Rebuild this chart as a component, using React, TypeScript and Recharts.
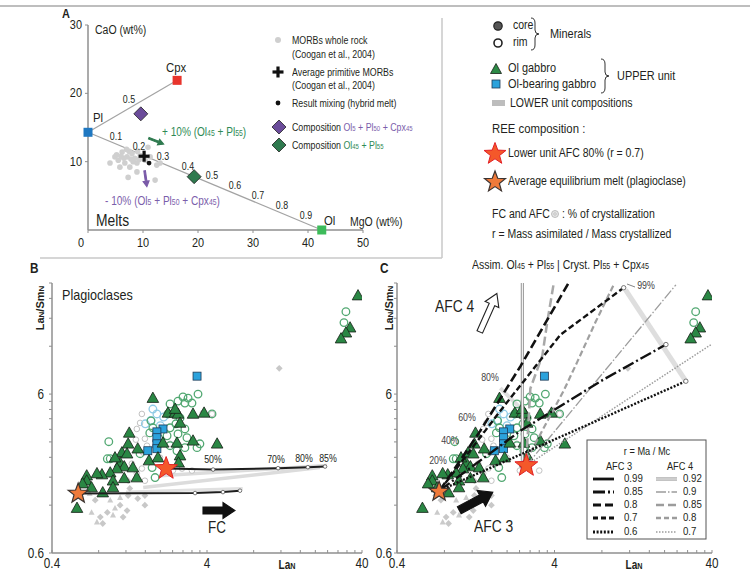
import React from 'react';
import { ScatterChart, Scatter, XAxis, YAxis } from 'recharts';

type P = { x: number; y: number };

const PAGE_W = 750;
const PAGE_H = 575;
const SX = 0.84;
const FONT = '"Liberation Sans", Arial, Helvetica, sans-serif';
const INK = '#231f20';
const AXIS = '#8f8f8f';

// ================= Panel A : CaO vs MgO (wt%) =================
const aXTicks = [0, 10, 20, 30, 40, 50];
const aYTicks = [10, 20, 30];
const plEnd: P[] = [{ x: 0, y: 14.3 }];
const cpxEnd: P[] = [{ x: 16.2, y: 21.9 }];
const olEnd: P[] = [{ x: 42.5, y: 0 }];
const plCpxMix: P[] = [{ x: 0, y: 14.3 }, { x: 16.2, y: 21.9 }];
const plOlMix: P[] = [{ x: 0, y: 14.3 }, { x: 42.5, y: 0 }];
const morbWholeRock: P[] = [
  { x: 4.0, y: 9.8 }, { x: 6.2, y: 11.4 }, { x: 7.1, y: 10.7 }, { x: 8.0, y: 11.2 }, { x: 8.5, y: 10.5 },
  { x: 9.5, y: 10.9 }, { x: 5.5, y: 10.2 }, { x: 6.7, y: 9.8 }, { x: 7.6, y: 9.2 }, { x: 8.9, y: 8.5 },
  { x: 7.3, y: 7.7 }, { x: 10.9, y: 12.1 }, { x: 11.3, y: 10.7 }, { x: 12.5, y: 9.5 }, { x: 12.2, y: 7.3 },
  { x: 13.1, y: 9.8 }, { x: 4.9, y: 10.7 }, { x: 5.8, y: 9.2 }, { x: 10.4, y: 10.2 }, { x: 8.9, y: 9.8 },
  { x: 6.5, y: 10.5 }, { x: 7.5, y: 11.5 }, { x: 8.2, y: 10.0 }, { x: 9.0, y: 11.5 }, { x: 6.0, y: 10.8 },
  { x: 7.8, y: 10.4 }, { x: 9.3, y: 10.3 }, { x: 5.2, y: 11.0 }, { x: 7.0, y: 11.8 },
];
const avgPrimitiveMorb: P[] = [{ x: 10.2, y: 10.8 }];
const hybridMelt: P[] = [{ x: 11.1, y: 9.8 }];
const compOlPlCpx: P[] = [{ x: 9.6, y: 17.0 }];
const compOlPl: P[] = [{ x: 19.3, y: 7.8 }];
const plusTenArrow: P[] = [{ x: 12.4, y: 13.0 }];
const minusTenArrow: P[] = [{ x: 10.5, y: 7.5 }];
const mixFractions = ['0.1', '0.2', '0.3', '0.4', '0.5', '0.6', '0.7', '0.8', '0.9'];

// ================= Panels B & C : LaN/SmN vs LaN (log-log) =================
const laTicks = [0.4, 0.8, 1.2, 1.6, 2, 2.4, 2.8, 3.2, 3.6, 4, 8, 12, 16, 20, 24, 28, 32, 36, 40];
const ratioTicks = [0.6, 1.2, 1.8, 2.4, 3, 3.6, 4.2, 4.8, 5.4, 6, 12, 18, 24, 30];
const laTickLabels = ['0.4', '4', '40'];
const ratioTickLabels = ['0.6', '6'];

const olGabbro: P[] = [
  { x: 1.79, y: 5.66 }, { x: 1.26, y: 3.42 }, { x: 2.24, y: 4.57 }, { x: 2.49, y: 4.57 }, { x: 2.6, y: 4.5 },
  { x: 3.25, y: 4.5 }, { x: 3.83, y: 4.57 }, { x: 2.68, y: 3.95 }, { x: 1.24, y: 2.92 }, { x: 1.43, y: 2.72 },
  { x: 1.13, y: 2.57 }, { x: 1.22, y: 2.53 }, { x: 2.08, y: 2.96 }, { x: 2.56, y: 2.96 }, { x: 3.25, y: 3.05 },
  { x: 4.65, y: 2.92 }, { x: 1.69, y: 2.29 }, { x: 1.93, y: 2.39 }, { x: 2.68, y: 2.46 }, { x: 1.1, y: 2.22 },
  { x: 1.02, y: 2.39 }, { x: 1.17, y: 2.1 }, { x: 1.05, y: 2.04 }, { x: 1.33, y: 2.07 }, { x: 0.95, y: 1.92 },
  { x: 0.84, y: 1.87 }, { x: 0.78, y: 1.9 }, { x: 0.67, y: 1.84 }, { x: 1.17, y: 1.77 }, { x: 1.41, y: 1.79 },
  { x: 0.99, y: 1.71 }, { x: 0.99, y: 1.55 }, { x: 0.67, y: 1.71 }, { x: 0.63, y: 1.64 }, { x: 0.72, y: 1.55 },
  { x: 0.85, y: 1.44 }, { x: 0.58, y: 1.15 }, { x: 2.62, y: 2.22 }, { x: 2.49, y: 4.83 },
  { x: 37.7, y: 25.0 }, { x: 33.5, y: 15.7 }, { x: 31.5, y: 14.6 }, { x: 29.3, y: 13.4 },
];
const rimGreen: P[] = [
  { x: 0.93, y: 3.01 }, { x: 0.91, y: 2.35 }, { x: 0.95, y: 2.35 }, { x: 1.74, y: 4.07 }, { x: 1.79, y: 3.68 },
  { x: 1.71, y: 3.42 }, { x: 2.31, y: 5.2 }, { x: 2.6, y: 5.42 }, { x: 2.88, y: 5.27 }, { x: 3.2, y: 5.27 },
  { x: 3.5, y: 6.0 }, { x: 2.68, y: 4.25 }, { x: 2.52, y: 3.9 }, { x: 2.31, y: 3.68 }, { x: 2.88, y: 3.62 },
  { x: 2.6, y: 3.37 }, { x: 2.97, y: 3.19 }, { x: 2.21, y: 3.28 }, { x: 1.96, y: 3.14 }, { x: 2.31, y: 2.84 },
  { x: 2.88, y: 2.76 }, { x: 2.56, y: 2.64 }, { x: 3.6, y: 2.92 }, { x: 3.45, y: 2.76 }, { x: 4.31, y: 4.5 },
  { x: 2.24, y: 4.5 }, { x: 1.77, y: 2.07 }, { x: 1.85, y: 1.79 }, { x: 1.48, y: 2.53 }, { x: 3.02, y: 5.66 },
  { x: 2.8, y: 5.75 }, { x: 31.5, y: 19.8 }, { x: 30.6, y: 16.9 },
];
const rimBlue: P[] = [
  { x: 1.79, y: 4.83 }, { x: 1.9, y: 4.5 }, { x: 1.74, y: 4.1 }, { x: 2.0, y: 3.8 }, { x: 2.1, y: 4.3 }, { x: 1.6, y: 3.9 },
];
const olBearingGabbro: P[] = [
  { x: 2.08, y: 3.62 }, { x: 1.9, y: 3.47 }, { x: 1.9, y: 3.19 }, { x: 1.9, y: 2.92 }, { x: 1.9, y: 2.72 },
  { x: 1.66, y: 2.64 }, { x: 3.45, y: 7.78 },
];
const lowerCircles: P[] = [
  { x: 1.52, y: 4.5 }, { x: 1.48, y: 3.95 }, { x: 1.41, y: 3.62 }, { x: 1.59, y: 3.14 }, { x: 1.39, y: 3.1 },
  { x: 1.64, y: 2.84 }, { x: 1.55, y: 2.57 }, { x: 1.31, y: 2.19 }, { x: 1.52, y: 2.04 }, { x: 2.31, y: 2.92 },
  { x: 1.99, y: 2.39 }, { x: 2.41, y: 1.98 }, { x: 3.2, y: 1.98 }, { x: 3.77, y: 4.57 }, { x: 4.31, y: 4.5 },
  { x: 2.76, y: 2.04 }, { x: 1.41, y: 1.9 }, { x: 1.59, y: 1.71 },
];
const lowerDiamonds: P[] = [
  { x: 1.24, y: 1.71 }, { x: 1.27, y: 1.53 }, { x: 1.59, y: 1.38 }, { x: 1.43, y: 1.32 }, { x: 1.24, y: 1.38 },
  { x: 1.1, y: 1.2 }, { x: 1.22, y: 1.11 }, { x: 0.91, y: 1.08 }, { x: 0.82, y: 1.01 }, { x: 0.85, y: 0.92 },
  { x: 0.76, y: 1.29 }, { x: 1.15, y: 1.01 }, { x: 1.59, y: 1.2 }, { x: 11.7, y: 8.72 },
];
const lowerTriangles: P[] = [
  { x: 1.1, y: 1.34 }, { x: 0.95, y: 1.29 }, { x: 1.02, y: 1.15 }, { x: 0.78, y: 0.94 }, { x: 0.72, y: 1.08 },
  { x: 0.7, y: 1.42 }, { x: 0.99, y: 1.04 },
];

// Panel B: FC models
const bLowerUnitStar: P[] = [{ x: 2.18, y: 2.04 }];
const bEquilibriumStar: P[] = [{ x: 0.59, y: 1.42 }];
const fcFromLowerUnit: P[] = [{ x: 2.18, y: 2.04 }, { x: 4.38, y: 2.01 }, { x: 11.5, y: 2.05 }, { x: 17.9, y: 2.08 }, { x: 23.1, y: 2.1 }];
const fcFromEquilibrium: P[] = [{ x: 0.59, y: 1.42 }, { x: 3.35, y: 1.43 }, { x: 5.07, y: 1.45 }, { x: 6.53, y: 1.48 }];
const fcSteps: P[] = [
  { x: 4.38, y: 2.01 }, { x: 11.5, y: 2.05 }, { x: 17.9, y: 2.08 }, { x: 23.1, y: 2.1 },
  { x: 3.35, y: 1.43 }, { x: 5.07, y: 1.45 }, { x: 6.53, y: 1.48 },
];
const fcPercentLabels = ['50%', '70%', '80%', '85%'];
const lowerBand1: P[] = [{ x: 1.55, y: 1.55 }, { x: 21.4, y: 2.07 }];
const lowerBand2: P[] = [{ x: 1.99, y: 1.84 }, { x: 23.8, y: 2.13 }];
const lowerBand3: P[] = [{ x: 1.2, y: 1.45 }, { x: 6.8, y: 1.53 }];
const fcArrow: P[] = [{ x: 4.78, y: 1.11 }];

// Panel C: AFC models
const cLowerUnitStar: P[] = [{ x: 2.65, y: 2.13 }];
const cEquilibriumStar: P[] = [{ x: 0.74, y: 1.46 }];
const afc3r085: P[] = [{ x: 0.75, y: 1.49 }, { x: 2.43, y: 3.52 }, { x: 7.85, y: 7.23 }, { x: 20.4, y: 12.3 }];
const afc3r08: P[] = [{ x: 0.75, y: 1.49 }, { x: 1.35, y: 3.52 }, { x: 2.43, y: 8.97 }, { x: 4.91, y: 30 }];
const afc3r07: P[] = [{ x: 0.75, y: 1.49 }, { x: 1.81, y: 4.7 }, { x: 4.37, y: 14.2 }, { x: 11.0, y: 28.0 }];
const afc3r06: P[] = [{ x: 0.75, y: 1.49 }, { x: 3.26, y: 2.84 }, { x: 27.3, y: 7.23 }];
const afc4r092: P[] = [{ x: 2.5, y: 2.29 }, { x: 2.5, y: 30 }];
const afc4r09: P[] = [{ x: 2.65, y: 2.13 }, { x: 23.6, y: 29.2 }];
const afc4r085: P[] = [{ x: 2.65, y: 2.3 }, { x: 2.81, y: 6.5 }, { x: 3.35, y: 10.5 }, { x: 3.6, y: 17.1 }, { x: 3.94, y: 29.2 }];
const afc4r08: P[] = [{ x: 2.65, y: 2.3 }, { x: 4.56, y: 6.26 }, { x: 5.6, y: 9.64 }, { x: 7.3, y: 17.1 }, { x: 9.5, y: 29.2 }];
const afc4r07: P[] = [{ x: 2.65, y: 2.13 }, { x: 40, y: 12.4 }];
const iso99: P[] = [{ x: 11.3, y: 27.2 }, { x: 27.3, y: 7.23 }];
const iso80: P[] = [{ x: 1.81, y: 6.54 }, { x: 2.81, y: 4.25 }];
const afcEnds: P[] = [{ x: 20.4, y: 12.3 }, { x: 27.3, y: 7.23 }, { x: 11.0, y: 28.0 }];
const afc3Arrow: P[] = [{ x: 1.27, y: 1.27 }];
const afc4Arrow: P[] = [{ x: 1.52, y: 19.5 }];
const afcPercentLabels = ['20%', '40%', '60%', '80%', '99%'];
const afc3Ratios = ['0.99', '0.85', '0.8', '0.7', '0.6'];
const afc4Ratios = ['0.92', '0.9', '0.85', '0.8', '0.7'];

// ================= shapes =================
const noShape = () => <g />;
const starPts = (cx: number, cy: number, ro: number, ri: number) => {
  const pts: string[] = [];
  for (let i = 0; i < 10; i++) {
    const a = -Math.PI / 2 + (i * Math.PI) / 5;
    const r = i % 2 === 0 ? ro : ri;
    pts.push(`${(cx + r * Math.cos(a)).toFixed(2)},${(cy + r * Math.sin(a)).toFixed(2)}`);
  }
  return pts.join(' ');
};
const redStar = (p: any) => <polygon points={starPts(p.cx, p.cy, 12, 5)} fill="#f4582a" stroke="#e21f26" strokeWidth={1} />;
const orangeStar = (p: any) => <polygon points={starPts(p.cx, p.cy, 10.5, 4.4)} fill="#ef7a3a" stroke="#3b3330" strokeWidth={1.2} />;
const triShape = (p: any) => (
  <polygon points={`${p.cx},${p.cy - 6} ${p.cx + 5.8},${p.cy + 4.3} ${p.cx - 5.8},${p.cy + 4.3}`} fill="#2a8744" stroke="#182018" strokeWidth={0.8} />
);
const greenRing = (p: any) => <circle cx={p.cx} cy={p.cy} r={3.8} fill="none" stroke="#52a872" strokeWidth={1.3} />;
const blueRing = (p: any) => <circle cx={p.cx} cy={p.cy} r={3.8} fill="none" stroke="#8fcbe6" strokeWidth={1.3} />;
const squareShape = (p: any) => <rect x={p.cx - 4} y={p.cy - 4} width={8} height={8} fill="#2ba2dc" stroke="#1f3b57" strokeWidth={0.8} />;
const grayRing = (p: any) => <circle cx={p.cx} cy={p.cy} r={2.8} fill="#fff" stroke="#c2c2c2" strokeWidth={1} />;
const grayDiamond = (p: any) => (
  <polygon points={`${p.cx},${p.cy - 3.4} ${p.cx + 3.4},${p.cy} ${p.cx},${p.cy + 3.4} ${p.cx - 3.4},${p.cy}`} fill="#c8c8c8" />
);
const grayTri = (p: any) => (
  <polygon points={`${p.cx},${p.cy - 3.2} ${p.cx + 3},${p.cy + 2.4} ${p.cx - 3},${p.cy + 2.4}`} fill="#cbcbcb" />
);
const stepMark = (p: any) => <circle cx={p.cx} cy={p.cy} r={1.8} fill="#fff" stroke="#555" strokeWidth={0.8} />;
const endMark = (p: any) => <circle cx={p.cx} cy={p.cy} r={2.2} fill="#fff" stroke="#666" strokeWidth={0.9} />;
const morbDot = (p: any) => <circle cx={p.cx} cy={p.cy} r={2.8} fill="#cfcfcf" />;
const plusShape = (p: any) => (
  <g>
    <rect x={p.cx - 5.5} y={p.cy - 1.6} width={11} height={3.2} fill="#111" />
    <rect x={p.cx - 1.6} y={p.cy - 5.5} width={3.2} height={11} fill="#111" />
  </g>
);
const dotShape = (p: any) => <circle cx={p.cx} cy={p.cy} r={2.4} fill="#111" />;
const diamond = (fill: string) => (p: any) => (
  <polygon points={`${p.cx},${p.cy - 7} ${p.cx + 7},${p.cy} ${p.cx},${p.cy + 7} ${p.cx - 7},${p.cy}`} fill={fill} stroke="#222" strokeWidth={0.8} />
);
const squareMineral = (fill: string) => (p: any) => <rect x={p.cx - 4.5} y={p.cy - 4.5} width={9} height={9} fill={fill} />;
const arrowShape = (len: number, angle: number, body: number, head: number, headLen: number, fill: string, stroke: string) => (p: any) => {
  const h = len / 2, b = body / 2, hw = head / 2;
  const pts = [[-h, -b], [h - headLen, -b], [h - headLen, -hw], [h, 0], [h - headLen, hw], [h - headLen, b], [-h, b]];
  return (
    <polygon points={pts.map(([x, y]) => `${x},${y}`).join(' ')} transform={`translate(${p.cx},${p.cy}) rotate(${angle})`}
      fill={fill} stroke={stroke} strokeWidth={1.1} strokeLinejoin="miter" />
  );
};

// ================= ticks =================
const aXTick = (p: any) => {
  const { x, y, payload } = p;
  return (
    <g>
      <line x1={x} x2={x} y1={y} y2={y + 3} stroke={AXIS} />
      <text transform={`translate(${payload.value === 0 ? x - 7 : x},${y + 17}) scale(${SX},1)`} textAnchor="middle" fontSize={13} fill={INK} fontFamily={FONT}>
        {payload.value}
      </text>
    </g>
  );
};
const aYTick = (p: any) => {
  const { x, y, payload } = p;
  return (
    <g>
      <line x1={x} x2={x - 3} y1={y} y2={y} stroke={AXIS} />
      <text transform={`translate(${x - 6},${y + 4}) scale(${SX},1)`} textAnchor="end" fontSize={13} fill={INK} fontFamily={FONT}>
        {payload.value}
      </text>
    </g>
  );
};
const logXTick = (p: any) => {
  const { x, y, payload } = p;
  const lab = laTickLabels.includes(String(payload.value)) ? String(payload.value) : '';
  return (
    <g>
      <line x1={x} x2={x} y1={y} y2={y - 3} stroke={AXIS} />
      {lab ? (
        <text transform={`translate(${x},${y + 15}) scale(${SX},1)`} textAnchor="middle" fontSize={14} fill={INK} fontFamily={FONT}>{lab}</text>
      ) : null}
    </g>
  );
};
const logYTick = (gap: number) => (p: any) => {
  const { x, y, payload } = p;
  const lab = ratioTickLabels.includes(String(payload.value)) ? String(payload.value) : '';
  return (
    <g>
      <line x1={x} x2={x - 3} y1={y} y2={y} stroke={AXIS} />
      {lab ? (
        <text transform={`translate(${x - gap},${y + 5}) scale(${SX},1)`} textAnchor="end" fontSize={14} fill={INK} fontFamily={FONT}>{lab}</text>
      ) : null}
    </g>
  );
};

// ================= text helpers =================
function Tx({ x, y, s = 12, c = INK, a = 'start', b = false, children }: any) {
  const style: any = {
    position: 'absolute', top: y - s * 0.6, fontSize: s, lineHeight: `${s * 1.2}px`, whiteSpace: 'nowrap',
    color: c, fontWeight: b ? 'bold' : 'normal', fontFamily: FONT,
  };
  if (a === 'start') { style.left = x; style.transform = `scaleX(${SX})`; style.transformOrigin = 'left center'; }
  else if (a === 'end') { style.right = PAGE_W - x; style.transform = `scaleX(${SX})`; style.transformOrigin = 'right center'; }
  else { style.left = x; style.transform = `translateX(-50%) scaleX(${SX})`; style.transformOrigin = 'center'; }
  return <div style={style}>{children}</div>;
}
const Sub = ({ children }: any) => <span style={{ fontSize: '0.68em' }}>{children}</span>;
const LaN = () => <span>La<span style={{ fontSize: '0.72em' }}>N</span></span>;

const S = (data: P[], shape: any, line?: any) => (
  <Scatter data={data} shape={shape} line={line} isAnimationActive={false} />
);

// ================= panels =================
function PanelA() {
  return (
    <div style={{ position: 'absolute', left: 38, top: 15 }}>
      <ScatterChart width={345} height={245} margin={{ top: 10, right: 20, bottom: 0, left: 0 }}>
        <XAxis type="number" dataKey="x" domain={[0, 50]} ticks={aXTicks} interval={0} height={30} tickSize={0} tickMargin={0}
          axisLine={{ stroke: AXIS, strokeWidth: 1.5 }} tickLine={false} tick={aXTick} />
        <YAxis type="number" dataKey="y" domain={[0, 30]} ticks={aYTicks} interval={0} width={50} tickSize={0} tickMargin={0}
          axisLine={{ stroke: AXIS, strokeWidth: 1.5 }} tickLine={false} tick={aYTick} />
        {S(plCpxMix, noShape, { stroke: '#a3a3a3', strokeWidth: 1.2 })}
        {S(plOlMix, noShape, { stroke: '#a3a3a3', strokeWidth: 1.2 })}
        {S(morbWholeRock, morbDot)}
        {S(avgPrimitiveMorb, plusShape)}
        {S(hybridMelt, dotShape)}
        {S(compOlPlCpx, diamond('#6b4c9a'))}
        {S(compOlPl, diamond('#2f7a4f'))}
        {S(plEnd, squareMineral('#1f78c1'))}
        {S(cpxEnd, squareMineral('#e8342c'))}
        {S(olEnd, squareMineral('#3dbb5a'))}
        {S(plusTenArrow, arrowShape(16, 22, 1.6, 6, 5.5, '#2f7a4f', '#2f7a4f'))}
        {S(minusTenArrow, arrowShape(16, 82, 1.6, 6, 5.5, '#7a5aa8', '#7a5aa8'))}
      </ScatterChart>
    </div>
  );
}

function PanelB() {
  return (
    <div style={{ position: 'absolute', left: 2, top: 273 }}>
      <ScatterChart width={374} height={302} margin={{ top: 10, right: 14, bottom: 0, left: 0 }}>
        <XAxis type="number" dataKey="x" scale="log" domain={[0.4, 40]} allowDataOverflow ticks={laTicks} interval={0} height={22}
          tickSize={0} tickMargin={0} axisLine={{ stroke: AXIS, strokeWidth: 1.5 }} tickLine={false} tick={logXTick} />
        <YAxis type="number" dataKey="y" scale="log" domain={[0.6, 30]} allowDataOverflow ticks={ratioTicks} interval={0} width={50}
          tickSize={0} tickMargin={0} axisLine={{ stroke: AXIS, strokeWidth: 1.5 }} tickLine={false} tick={logYTick(8)} />
        {S(lowerBand1, noShape, { stroke: '#dcdcdc', strokeWidth: 3.5 })}
        {S(lowerBand2, noShape, { stroke: '#dcdcdc', strokeWidth: 3.5 })}
        {S(lowerBand3, noShape, { stroke: '#e0e0e0', strokeWidth: 3 })}
        {S(lowerCircles, grayRing)}
        {S(lowerDiamonds, grayDiamond)}
        {S(lowerTriangles, grayTri)}
        {S(rimBlue, blueRing)}
        {S(rimGreen, greenRing)}
        {S(olBearingGabbro, squareShape)}
        {S(olGabbro, triShape)}
        {S(fcFromLowerUnit, noShape, { stroke: '#1e1e1e', strokeWidth: 2 })}
        {S(fcFromEquilibrium, noShape, { stroke: '#1e1e1e', strokeWidth: 2 })}
        {S(fcSteps, stepMark)}
        {S(bEquilibriumStar, orangeStar)}
        {S(bLowerUnitStar, redStar)}
        {S(fcArrow, arrowShape(32, 0, 7, 16, 12, '#111', '#111'))}
      </ScatterChart>
    </div>
  );
}

function PanelC() {
  return (
    <div style={{ position: 'absolute', left: 347, top: 273 }}>
      <ScatterChart width={381} height={302} margin={{ top: 10, right: 16, bottom: 0, left: 0 }}>
        <XAxis type="number" dataKey="x" scale="log" domain={[0.4, 40]} allowDataOverflow ticks={laTicks} interval={0} height={22}
          tickSize={0} tickMargin={0} axisLine={{ stroke: AXIS, strokeWidth: 1.5 }} tickLine={false} tick={logXTick} />
        <YAxis type="number" dataKey="y" scale="log" domain={[0.6, 30]} allowDataOverflow ticks={ratioTicks} interval={0} width={50}
          tickSize={0} tickMargin={0} axisLine={{ stroke: AXIS, strokeWidth: 1.5 }} tickLine={false} tick={logYTick(5)} />
        {S(iso99, noShape, { stroke: '#dedede', strokeWidth: 5 })}
        {S(iso80, noShape, { stroke: '#dedede', strokeWidth: 4 })}
        {S(lowerCircles, grayRing)}
        {S(lowerDiamonds, grayDiamond)}
        {S(lowerTriangles, grayTri)}
        {S(rimBlue, blueRing)}
        {S(rimGreen, greenRing)}
        {S(olBearingGabbro, squareShape)}
        {S(olGabbro, triShape)}
        {S(afc4r092, noShape, { stroke: '#9c9c9c', strokeWidth: 3.2 })}
        {S(afc4r092, noShape, { stroke: '#ffffff', strokeWidth: 1 })}
        {S(afc4r09, noShape, { stroke: '#9c9c9c', strokeWidth: 1.3, strokeDasharray: '10 2 1.5 2' })}
        {S(afc4r085, noShape, { stroke: '#a8a8a8', strokeWidth: 2.5, strokeDasharray: '9 4' })}
        {S(afc4r08, noShape, { stroke: '#a0a0a0', strokeWidth: 2.2, strokeDasharray: '6 3' })}
        {S(afc4r07, noShape, { stroke: '#9c9c9c', strokeWidth: 1.5, strokeDasharray: '1.5 1.5' })}
        {S(afc3r085, noShape, { stroke: '#111', strokeWidth: 2.4, strokeDasharray: '12 3 2 3' })}
        {S(afc3r08, noShape, { stroke: '#111', strokeWidth: 2.6, strokeDasharray: '9 4' })}
        {S(afc3r07, noShape, { stroke: '#111', strokeWidth: 2.4, strokeDasharray: '6 3' })}
        {S(afc3r06, noShape, { stroke: '#111', strokeWidth: 2.4, strokeDasharray: '2 1.6' })}
        {S(afcEnds, endMark)}
        {S(cEquilibriumStar, orangeStar)}
        {S(cLowerUnitStar, redStar)}
        {S(afc3Arrow, arrowShape(38, -28, 8, 18, 13, '#111', '#111'))}
        {S(afc4Arrow, arrowShape(42, -66, 6, 15, 12, '#fff', '#222'))}
      </ScatterChart>
    </div>
  );
}

// ================= overlay: frames, legend glyphs =================
const brace = (x: number, y1: number, y2: number) => {
  const m = (y1 + y2) / 2;
  return `M${x},${y1} Q${x + 4},${y1} ${x + 4},${y1 + 5} L${x + 4},${m - 4} Q${x + 4},${m} ${x + 8},${m} Q${x + 4},${m} ${x + 4},${m + 4} L${x + 4},${y2 - 5} Q${x + 4},${y2} ${x},${y2}`;
};
const legendRows = [479, 492, 505, 518, 532];
const afc3Styles = [
  { w: 2.8, d: '' }, { w: 2.8, d: '12 3 2 3' }, { w: 2.8, d: '8 4' }, { w: 2.8, d: '5 3' }, { w: 2.8, d: '2 1.6' },
];
const afc4Styles = [
  { w: 3.2, d: '' }, { w: 1.3, d: '10 2 1.5 2' }, { w: 2.6, d: '8 4' }, { w: 2.4, d: '5 3' }, { w: 1.5, d: '1.5 1.5' },
];

function Overlay() {
  return (
    <svg width={PAGE_W} height={PAGE_H} style={{ position: 'absolute', left: 0, top: 0, pointerEvents: 'none' }}>
      <line x1={0} x2={PAGE_W} y1={6} y2={6} stroke="#a8a8a8" strokeWidth={1.5} />
      <line x1={442} x2={442} y1={18} y2={258} stroke="#c8c8c8" strokeWidth={1.5} />
      <line x1={40} x2={442} y1={258} y2={258} stroke="#c8c8c8" strokeWidth={1.5} />
      {/* panel A legend glyphs */}
      <circle cx={278} cy={40} r={3} fill="#cfcfcf" />
      <rect x={272.5} y={70.4} width={11} height={3.2} fill="#111" />
      <rect x={276.4} y={66.5} width={3.2} height={11} fill="#111" />
      <circle cx={278} cy={103} r={2.4} fill="#111" />
      <polygon points="279,120 286,127 279,134 272,127" fill="#6b4c9a" stroke="#222" strokeWidth={0.8} />
      <polygon points="279,138 286,145 279,152 272,145" fill="#2f7a4f" stroke="#222" strokeWidth={0.8} />
      {/* right legend glyphs */}
      <circle cx={498} cy={26} r={4.2} fill="#555" stroke="#222" strokeWidth={1.2} />
      <circle cx={498} cy={43} r={4} fill="#fff" stroke="#222" strokeWidth={1.6} />
      <path d={brace(531, 18, 50)} fill="none" stroke="#333" strokeWidth={1} />
      <polygon points="496,63.5 501.5,73.5 490.5,73.5" fill="#2c8a46" stroke="#182018" strokeWidth={0.8} />
      <rect x={492} y={80} width={8} height={8} fill="#2ba2dc" stroke="#1f3b57" strokeWidth={0.8} />
      <path d={brace(601, 59, 93)} fill="none" stroke="#333" strokeWidth={1} />
      <rect x={492} y={100} width={13} height={6} fill="#bdbdbd" />
      <polygon points={starPts(495, 154, 11.5, 4.8)} fill="#f4582a" stroke="#e21f26" strokeWidth={1} />
      <polygon points={starPts(495, 182, 11, 4.6)} fill="#ef7a3a" stroke="#3b3330" strokeWidth={1.2} />
      <circle cx={555} cy={214} r={3.5} fill="#e6e6e6" stroke="#b0b0b0" strokeWidth={0.8} />
      <circle cx={555} cy={214} r={1.2} fill="#fff" stroke="#888" strokeWidth={0.5} />
      {/* panel C leaders */}
      <line x1={627} y1={284} x2={635} y2={287} stroke="#666" strokeWidth={0.8} />
      {/* panel C legend box */}
      <rect x={587} y={440} width={119} height={99} fill="#fff" stroke="#555" strokeWidth={1} />
      {legendRows.map((yy, i) => (
        <g key={i}>
          <line x1={593} x2={614} y1={yy} y2={yy} stroke="#111" strokeWidth={afc3Styles[i].w} strokeDasharray={afc3Styles[i].d} />
          <line x1={656} x2={677} y1={yy} y2={yy} stroke="#9c9c9c" strokeWidth={afc4Styles[i].w} strokeDasharray={afc4Styles[i].d} />
          {i === 0 ? <line x1={656} x2={677} y1={yy} y2={yy} stroke="#fff" strokeWidth={1} /> : null}
        </g>
      ))}
    </svg>
  );
}

function Texts() {
  const mixPos = [[116, 136], [139, 146], [163, 156], [188, 166], [212, 175], [235, 185], [258, 195], [282, 205], [306, 215]];
  const fcPos = [[213, 459], [276, 459], [304, 458], [328, 458]];
  const afcPos = [[438, 460], [450, 440], [467, 417], [490, 377], [646, 285]];
  return (
    <>
      <Tx x={62} y={14} s={13} b>A</Tx>
      <Tx x={30} y={268} s={14} b>B</Tx>
      <Tx x={380} y={268} s={14} b>C</Tx>

      <Tx x={95} y={30} s={12.5}>CaO (wt%)</Tx>
      <Tx x={350} y={222} s={12.5}>MgO (wt%)</Tx>
      <Tx x={93} y={118} s={13.5}>Pl</Tx>
      <Tx x={166} y={68} s={13.5}>Cpx</Tx>
      <Tx x={324} y={221} s={13.5}>Ol</Tx>
      <Tx x={96} y={221} s={16.5}>Melts</Tx>
      <Tx x={129} y={99} s={10.5} a="middle">0.5</Tx>
      {mixFractions.map((m, i) => (
        <Tx key={m} x={mixPos[i][0]} y={mixPos[i][1]} s={10.5} a="middle">{m}</Tx>
      ))}
      <Tx x={162} y={132} s={12} c="#2f8a55">+ 10% (Ol<Sub>45</Sub> + Pl<Sub>55</Sub>)</Tx>
      <Tx x={105} y={201} s={12} c="#7b5eab">- 10% (Ol<Sub>5</Sub> + Pl<Sub>50</Sub> + Cpx<Sub>45</Sub>)</Tx>

      <Tx x={292} y={40} s={10.5}>MORBs whole rock</Tx>
      <Tx x={292} y={54} s={10.5}>(Coogan et al., 2004)</Tx>
      <Tx x={292} y={72} s={10.5}>Average primitive MORBs</Tx>
      <Tx x={292} y={85} s={10.5}>(Coogan et al., 2004)</Tx>
      <Tx x={292} y={103} s={10.5}>Result mixing (hybrid melt)</Tx>
      <Tx x={292} y={127} s={10.5}>Composition <span style={{ color: '#7b5eab' }}>Ol<Sub>5</Sub> + Pl<Sub>50</Sub> + Cpx<Sub>45</Sub></span></Tx>
      <Tx x={292} y={145} s={10.5}>Composition <span style={{ color: '#2f8a55' }}>Ol<Sub>45</Sub> + Pl<Sub>55</Sub></span></Tx>

      <Tx x={513} y={25} s={12.5}>core</Tx>
      <Tx x={513} y={42} s={12.5}>rim</Tx>
      <Tx x={550} y={34} s={13}>Minerals</Tx>
      <Tx x={508} y={68} s={13}>Ol gabbro</Tx>
      <Tx x={508} y={84} s={13}>Ol-bearing gabbro</Tx>
      <Tx x={617} y={76} s={13}>UPPER unit</Tx>
      <Tx x={510} y={103} s={12.5}>LOWER unit compositions</Tx>
      <Tx x={492} y={129} s={13.5}>REE composition :</Tx>
      <Tx x={508} y={153} s={12.5}>Lower unit AFC 80% (r = 0.7)</Tx>
      <Tx x={508} y={181} s={12.5}>Average equilibrium melt (plagioclase)</Tx>
      <Tx x={492} y={214} s={12.5}>FC and AFC</Tx>
      <Tx x={562} y={214} s={12.5}>: % of crystallization</Tx>
      <Tx x={492} y={234} s={12.5}>r = Mass asimilated / Mass crystallized</Tx>
      <Tx x={472} y={265} s={12.5}>Assim. Ol<Sub>45</Sub> + Pl<Sub>55</Sub> | Cryst. Pl<Sub>55</Sub> + Cpx<Sub>45</Sub></Tx>

      <Tx x={62} y={295} s={15}>Plagioclases</Tx>
      {fcPercentLabels.map((l, i) => (
        <Tx key={l} x={fcPos[i][0]} y={fcPos[i][1]} s={10.5} a="middle">{l}</Tx>
      ))}
      <Tx x={208} y={528} s={16}>FC</Tx>
      <Tx x={287} y={565} s={12} a="middle" b><LaN /></Tx>
      <Tx x={634} y={565} s={12} a="middle" b><LaN /></Tx>

      <Tx x={435} y={307} s={16.5}>AFC 4</Tx>
      <Tx x={474} y={527} s={16.5}>AFC 3</Tx>
      {afcPercentLabels.map((l, i) => (
        <Tx key={l} x={afcPos[i][0]} y={afcPos[i][1]} s={10.5} a="middle" c="#444">{l}</Tx>
      ))}

      <Tx x={647} y={452} s={11} a="middle">r = Ma / Mc</Tx>
      <Tx x={619} y={467} s={11} a="middle">AFC 3</Tx>
      <Tx x={680} y={467} s={11} a="middle">AFC 4</Tx>
      {afc3Ratios.map((r, i) => (
        <Tx key={'a3' + r} x={624} y={legendRows[i]} s={11.5}>{r}</Tx>
      ))}
      {afc4Ratios.map((r, i) => (
        <Tx key={'a4' + r} x={683} y={legendRows[i]} s={11.5}>{r}</Tx>
      ))}

      <div style={{ position: 'absolute', left: 40, top: 308, transform: 'translate(-50%,-50%) rotate(-90deg)', fontSize: 11, fontWeight: 'bold', fontFamily: FONT, color: INK, whiteSpace: 'nowrap' }}>
        La<span style={{ fontSize: '0.72em' }}>N</span>/Sm<span style={{ fontSize: '0.72em' }}>N</span>
      </div>
      <div style={{ position: 'absolute', left: 389, top: 308, transform: 'translate(-50%,-50%) rotate(-90deg)', fontSize: 11, fontWeight: 'bold', fontFamily: FONT, color: INK, whiteSpace: 'nowrap' }}>
        La<span style={{ fontSize: '0.72em' }}>N</span>/Sm<span style={{ fontSize: '0.72em' }}>N</span>
      </div>
    </>
  );
}

export default function App() {
  return (
    <div style={{ position: 'absolute', left: 0, top: 0, width: PAGE_W, height: PAGE_H, background: '#fff', overflow: 'hidden', fontFamily: FONT }}>
      <PanelA />
      <PanelB />
      <PanelC />
      <Overlay />
      <Texts />
    </div>
  );
}
